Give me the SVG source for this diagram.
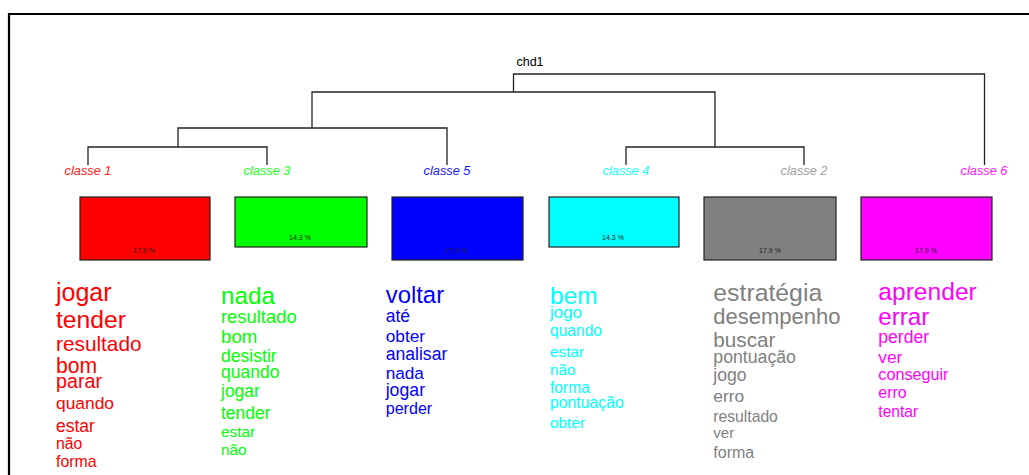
<svg xmlns="http://www.w3.org/2000/svg" width="1029" height="475" viewBox="0 0 1029 475">
<style>
.frame{fill:none;stroke:#000;stroke-width:2.2}
.tree{fill:none;stroke:#222;stroke-width:1.3}
.box{stroke:#222;stroke-width:1.2}
.pct{font-family:"Liberation Sans",Arial,sans-serif;font-size:7px;fill:#222;text-anchor:middle}
.cl{font-family:"Liberation Sans",Arial,sans-serif;font-size:12.5px;font-style:italic;text-anchor:middle}
.w{font-family:"Liberation Sans",Arial,sans-serif}
.t{font-family:"Liberation Sans",Arial,sans-serif;font-size:12.5px;fill:#000;text-anchor:middle}
</style>
<rect width="1029" height="475" fill="#fff"/>
<path class="frame" d="M9,476 V14 H1030"/>
<text class="t" x="530" y="66">chd1</text>
<g id="connectors">
<path class="tree" d="M513.5,92 V74 H984.5 V165"/>
<path class="tree" d="M312,128 V92 H715 V147"/>
<path class="tree" d="M178,147 V128 H447 V165"/>
<path class="tree" d="M88,165 V147 H267 V165"/>
<path class="tree" d="M626,165 V147 H804 V165"/>
</g>
<g id="classe1">
<text class="cl" x="88" y="175" fill="#ff2020" textLength="47" lengthAdjust="spacingAndGlyphs">classe  1</text>
<rect class="box" x="80" y="197" width="130" height="63" fill="#ff0000"/>
<text class="pct" x="144" y="253">17.9 %</text>
<g class="w" fill="#ff0000">
<text x="56" y="301" font-size="25">jogar</text>
<text x="56" y="328" font-size="24.7">tender</text>
<text x="56" y="351" font-size="20.8">resultado</text>
<text x="56" y="372.7" font-size="21.2">bom</text>
<text x="56" y="388.3" font-size="19.7">parar</text>
<text x="56" y="409" font-size="17.4">quando</text>
<text x="56" y="432.3" font-size="17.5">estar</text>
<text x="56" y="449" font-size="15.8">não</text>
<text x="56" y="466.7" font-size="15.9">forma</text>
</g>
</g>
<g id="classe3">
<text class="cl" x="267" y="175" fill="#20ff20" textLength="47" lengthAdjust="spacingAndGlyphs">classe  3</text>
<rect class="box" x="235" y="197" width="132" height="50" fill="#00ff00"/>
<text class="pct" x="300" y="240">14.3 %</text>
<g class="w" fill="#00ff00">
<text x="221" y="304.3" font-size="24.3">nada</text>
<text x="221" y="322.7" font-size="18.4">resultado</text>
<text x="221" y="343.3" font-size="18.7">bom</text>
<text x="221" y="361.7" font-size="17.6">desistir</text>
<text x="221" y="377.7" font-size="17.5">quando</text>
<text x="221" y="396.7" font-size="17.5">jogar</text>
<text x="221" y="419.3" font-size="17.5">tender</text>
<text x="221" y="436.7" font-size="15.4">estar</text>
<text x="221" y="455" font-size="15.4">não</text>
</g>
</g>
<g id="classe5">
<text class="cl" x="447" y="175" fill="#2020ff" textLength="47" lengthAdjust="spacingAndGlyphs">classe  5</text>
<rect class="box" x="392" y="197" width="131" height="63" fill="#0000ff"/>
<text class="pct" x="456" y="253">17.9 %</text>
<g class="w" fill="#0000ff">
<text x="385.7" y="303.3" font-size="23.9">voltar</text>
<text x="385.7" y="321.7" font-size="17.5">até</text>
<text x="385.7" y="341.7" font-size="17.3">obter</text>
<text x="385.7" y="360" font-size="17.6">analisar</text>
<text x="385.7" y="379.3" font-size="17.2">nada</text>
<text x="385.7" y="396" font-size="17.7">jogar</text>
<text x="385.7" y="414" font-size="16.1">perder</text>
</g>
</g>
<g id="classe4">
<text class="cl" x="626" y="175" fill="#20ffff" textLength="47" lengthAdjust="spacingAndGlyphs">classe  4</text>
<rect class="box" x="549" y="197" width="130" height="50" fill="#00ffff"/>
<text class="pct" x="613" y="240">14.3 %</text>
<g class="w" fill="#00ffff">
<text x="550" y="304.3" font-size="24.5">bem</text>
<text x="550" y="318.3" font-size="16.9">jogo</text>
<text x="550" y="335.7" font-size="15.6">quando</text>
<text x="550" y="356.7" font-size="15.3">estar</text>
<text x="550" y="375" font-size="15.2">não</text>
<text x="550" y="392.7" font-size="15.6">forma</text>
<text x="550" y="408.3" font-size="15.8">pontuação</text>
<text x="550" y="428.3" font-size="15.4">obter</text>
</g>
</g>
<g id="classe2">
<text class="cl" x="804" y="175" fill="#a0a0a0" textLength="47" lengthAdjust="spacingAndGlyphs">classe  2</text>
<rect class="box" x="704" y="197" width="132" height="63" fill="#808080"/>
<text class="pct" x="770" y="253">17.9 %</text>
<g class="w" fill="#808080">
<text x="713.3" y="300.7" font-size="24.8">estratégia</text>
<text x="713.3" y="324" font-size="22">desempenho</text>
<text x="713.3" y="346.7" font-size="20.7">buscar</text>
<text x="713.3" y="363.3" font-size="17.7">pontuação</text>
<text x="713.3" y="381" font-size="17.6">jogo</text>
<text x="713.3" y="402.3" font-size="17.4">erro</text>
<text x="713.3" y="421.7" font-size="15.7">resultado</text>
<text x="713.3" y="437.7" font-size="15.1">ver</text>
<text x="713.3" y="457.7" font-size="16">forma</text>
</g>
</g>
<g id="classe6">
<text class="cl" x="984" y="175" fill="#ff20ff" textLength="47" lengthAdjust="spacingAndGlyphs">classe  6</text>
<rect class="box" x="861" y="197" width="131" height="63" fill="#ff00ff"/>
<text class="pct" x="926" y="253">17.9 %</text>
<g class="w" fill="#ff00ff">
<text x="878.3" y="300" font-size="24.6">aprender</text>
<text x="878.3" y="325" font-size="24.2">errar</text>
<text x="878.3" y="342.7" font-size="17.6">perder</text>
<text x="878.3" y="363.3" font-size="17.3">ver</text>
<text x="878.3" y="380" font-size="16.2">conseguir</text>
<text x="878.3" y="398.3" font-size="15.9">erro</text>
<text x="878.3" y="416.7" font-size="15.6">tentar</text>
</g>
</g>
</svg>
